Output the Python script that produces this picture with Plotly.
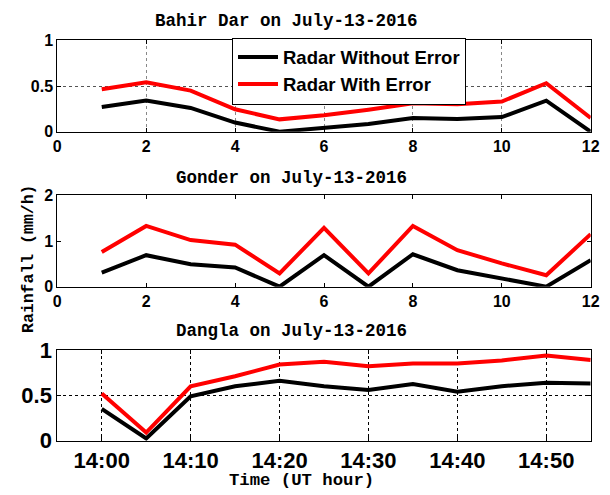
import plotly.graph_objects as go

# ---- data ----
steps = list(range(1, 13))
bahir_without = [0.27, 0.34, 0.26, 0.10, 0.00, 0.04, 0.085, 0.15, 0.14, 0.16, 0.34, 0.00]
bahir_with = [0.465, 0.54, 0.45, 0.245, 0.135, 0.18, 0.24, 0.31, 0.30, 0.33, 0.53, 0.15]
gonder_without = [0.31, 0.69, 0.49, 0.42, 0.00, 0.69, 0.00, 0.71, 0.36, 0.18, 0.00, 0.58]
gonder_with = [0.76, 1.33, 1.02, 0.92, 0.29, 1.29, 0.29, 1.33, 0.80, 0.51, 0.25, 1.15]
dangla_without = [0.35, 0.025, 0.49, 0.60, 0.66, 0.60, 0.56, 0.625, 0.54, 0.60, 0.64, 0.63]
dangla_with = [0.52, 0.09, 0.60, 0.71, 0.84, 0.87, 0.82, 0.85, 0.85, 0.885, 0.94, 0.89]
time_tickvals = [1, 3, 5, 7, 9, 11]
time_ticktext = ["14:00", "14:10", "14:20", "14:30", "14:40", "14:50"]
titles = ["Bahir Dar on July-13-2016", "Gonder on July-13-2016", "Dangla on July-13-2016"]
series_names = ["Radar Without Error", "Radar With Error"]

W, H = 610, 495
def py(p):
    return 1 - p / H
def px(p):
    return p / W

fig = go.Figure()
panels = [(bahir_without, bahir_with), (gonder_without, gonder_with), (dangla_without, dangla_with)]
for i, (wo, wi) in enumerate(panels):
    suffix = "" if i == 0 else str(i + 1)
    fig.add_trace(go.Scatter(x=steps, y=wo, mode="lines", name=series_names[0],
                             line=dict(color="black", width=4),
                             xaxis="x" + suffix, yaxis="y" + suffix, showlegend=(i == 0)))
    fig.add_trace(go.Scatter(x=steps, y=wi, mode="lines", name=series_names[1],
                             line=dict(color="#ff0000", width=4),
                             xaxis="x" + suffix, yaxis="y" + suffix, showlegend=(i == 0)))

xdom = [px(57.3), px(590.7)]
ydoms = [[py(131.7), py(40.3)], [py(286.7), py(195.3)], [py(440.7), py(350)]]

tick_small = dict(family="Liberation Sans, Arial, sans-serif", size=16, color="black", weight="bold")
tick_big = dict(family="Liberation Sans, Arial, sans-serif", size=22, color="black", weight="bold")

common = dict(showline=True, linecolor="black", linewidth=1, mirror="ticks",
              ticks="inside", ticklen=4, tickcolor="black", zeroline=False, automargin=False)

layout = dict(
    template="none",
    width=W, height=H, margin=dict(l=0, r=0, t=0, b=0, pad=0, autoexpand=False),
    paper_bgcolor="white", plot_bgcolor="white", showlegend=True,
    legend=dict(x=px(232), y=py(37.5), xanchor="left", yanchor="top",
                bgcolor="white", bordercolor="black", borderwidth=1,
                font=dict(family="Liberation Sans, Arial, sans-serif", size=18.5, color="black", weight="bold"),
                tracegroupgap=0, itemwidth=40),
)

# panel 1
layout["xaxis"] = dict(domain=xdom, anchor="y", range=[0, 12], tickvals=[0, 2, 4, 6, 8, 10, 12],
                       showgrid=True, gridcolor="#888888", griddash="dot", gridwidth=1,
                       tickfont=tick_small, **common)
layout["yaxis"] = dict(domain=ydoms[0], anchor="x", range=[0, 1], tickvals=[0, 0.5, 1],
                       ticktext=["0", "0.5", "1"],
                       showgrid=True, gridcolor="#555555", griddash="dot", gridwidth=1,
                       tickfont=tick_small, **common)
# panel 2
layout["xaxis2"] = dict(domain=xdom, anchor="y2", range=[0, 12], tickvals=[0, 2, 4, 6, 8, 10, 12],
                        showgrid=False, tickfont=tick_small, **common)
layout["yaxis2"] = dict(domain=ydoms[1], anchor="x2", range=[0, 2], tickvals=[0, 1, 2],
                        showgrid=False, tickfont=tick_small, **common)
# panel 3
layout["xaxis3"] = dict(domain=xdom, anchor="y3", range=[0, 12], tickvals=time_tickvals,
                        ticktext=time_ticktext,
                        showgrid=True, gridcolor="black", griddash="dot", gridwidth=1,
                        tickfont=tick_big, **common)
layout["yaxis3"] = dict(domain=ydoms[2], anchor="x3", range=[0, 1], tickvals=[0, 0.5, 1],
                        ticktext=["0", "0.5", "1"],
                        showgrid=True, gridcolor="black", griddash="dot", gridwidth=1,
                        tickfont=tick_big, **common)

mono = "Liberation Mono, Courier New, monospace"
annotations = [
    dict(text="<b>" + titles[0] + "</b>", x=px(286), y=py(21), xref="paper", yref="paper",
         xanchor="center", yanchor="middle", showarrow=False, font=dict(family=mono, size=17.5, color="black")),
    dict(text="<b>" + titles[1] + "</b>", x=px(291), y=py(178), xref="paper", yref="paper",
         xanchor="center", yanchor="middle", showarrow=False, font=dict(family=mono, size=17.5, color="black")),
    dict(text="<b>" + titles[2] + "</b>", x=px(291), y=py(331), xref="paper", yref="paper",
         xanchor="center", yanchor="middle", showarrow=False, font=dict(family=mono, size=17.5, color="black")),
    dict(text="<b>Time (UT hour)</b>", x=px(301), y=py(480), xref="paper", yref="paper",
         xanchor="center", yanchor="middle", showarrow=False, font=dict(family=mono, size=17.3, color="black")),
    dict(text="<b>Rainfall (mm/h)</b>", x=px(28), y=py(259), xref="paper", yref="paper",
         xanchor="center", yanchor="middle", textangle=-90, showarrow=False,
         font=dict(family=mono, size=16.5, color="black")),
]
layout["annotations"] = annotations
fig.update_layout(**layout)
fig.write_html("out.html", config={"displayModeBar": False},
               post_script="document.body.style.margin='0';document.body.style.overflow='hidden';")
